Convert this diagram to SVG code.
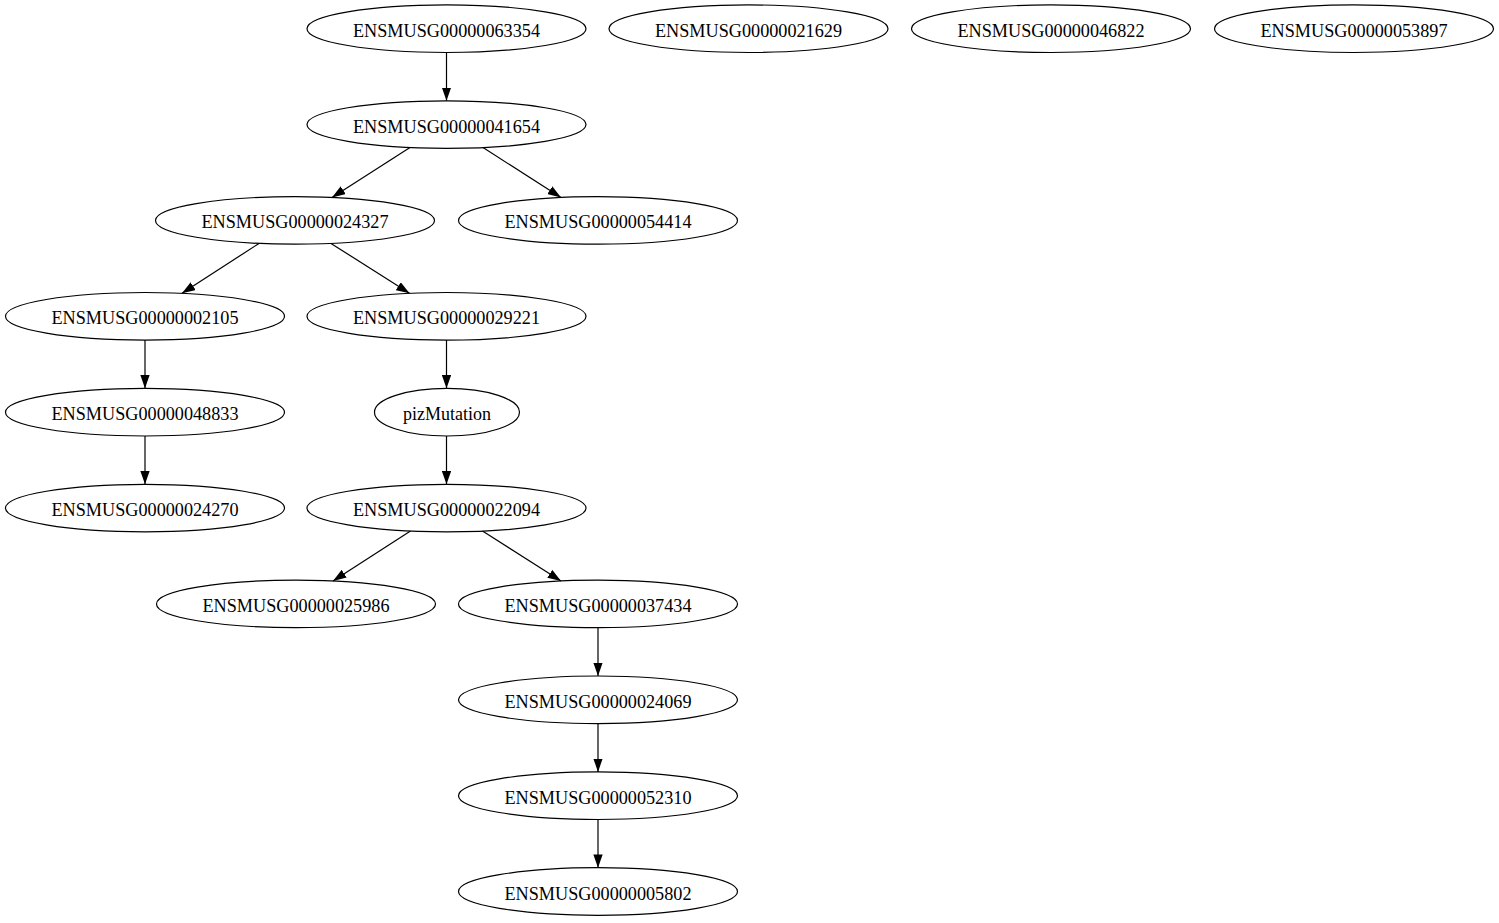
<svg xmlns="http://www.w3.org/2000/svg" width="1499" height="923" viewBox="0 0 1499 923">
<style>
.n ellipse{fill:none;stroke:#000;stroke-width:1.2}
.n text{font-family:"Liberation Serif","Times New Roman",serif;font-size:18.67px;fill:#000;text-anchor:middle}
.e path{fill:none;stroke:#000;stroke-width:1.2;marker-end:url(#ah)}
</style>
<defs>
<marker id="ah" markerUnits="userSpaceOnUse" markerWidth="13.3" markerHeight="9.3" refX="13.3" refY="4.65" orient="auto" viewBox="0 0 13.3 9.3"><path d="M0,0 L13.3,4.65 L0,9.3 z" fill="#000"/></marker>
</defs>
<rect width="1499" height="923" fill="#fff"/>
<g id="edges" class="e">
<path d="M446.5,52.5 V100.8"/>
<path d="M410,147.6 L332,197.4"/>
<path d="M483,147.6 L561,197.4"/>
<path d="M259,243.4 L182,293.3"/>
<path d="M331,243.4 L409.5,293.3"/>
<path d="M145,340.1 V388.4"/>
<path d="M446.5,340.1 V388.4"/>
<path d="M145,436 V484.3"/>
<path d="M446.5,436 V484.3"/>
<path d="M410.5,531.1 L333,580.9"/>
<path d="M482.5,531.1 L561,580.9"/>
<path d="M598,627.7 V676"/>
<path d="M598,723.6 V771.9"/>
<path d="M598,819.5 V867.7"/>
</g>
<g id="ENSMUSG00000063354" class="n"><ellipse cx="446.5" cy="28.7" rx="139.5" ry="23.8"/><text x="446.5" y="36.7" textLength="187" lengthAdjust="spacingAndGlyphs">ENSMUSG00000063354</text></g>
<g id="ENSMUSG00000021629" class="n"><ellipse cx="748.5" cy="28.7" rx="139.5" ry="23.8"/><text x="748.5" y="36.7" textLength="187" lengthAdjust="spacingAndGlyphs">ENSMUSG00000021629</text></g>
<g id="ENSMUSG00000046822" class="n"><ellipse cx="1051" cy="28.7" rx="139.5" ry="23.8"/><text x="1051" y="36.7" textLength="187" lengthAdjust="spacingAndGlyphs">ENSMUSG00000046822</text></g>
<g id="ENSMUSG00000053897" class="n"><ellipse cx="1354" cy="28.7" rx="139.5" ry="23.8"/><text x="1354" y="36.7" textLength="187" lengthAdjust="spacingAndGlyphs">ENSMUSG00000053897</text></g>
<g id="ENSMUSG00000041654" class="n"><ellipse cx="446.5" cy="124.6" rx="139.5" ry="23.8"/><text x="446.5" y="132.6" textLength="187" lengthAdjust="spacingAndGlyphs">ENSMUSG00000041654</text></g>
<g id="ENSMUSG00000024327" class="n"><ellipse cx="295" cy="220.4" rx="139.5" ry="23.8"/><text x="295" y="228.4" textLength="187" lengthAdjust="spacingAndGlyphs">ENSMUSG00000024327</text></g>
<g id="ENSMUSG00000054414" class="n"><ellipse cx="598" cy="220.4" rx="139.5" ry="23.8"/><text x="598" y="228.4" textLength="187" lengthAdjust="spacingAndGlyphs">ENSMUSG00000054414</text></g>
<g id="ENSMUSG00000002105" class="n"><ellipse cx="145" cy="316.3" rx="139.5" ry="23.8"/><text x="145" y="324.3" textLength="187" lengthAdjust="spacingAndGlyphs">ENSMUSG00000002105</text></g>
<g id="ENSMUSG00000029221" class="n"><ellipse cx="446.5" cy="316.3" rx="139.5" ry="23.8"/><text x="446.5" y="324.3" textLength="187" lengthAdjust="spacingAndGlyphs">ENSMUSG00000029221</text></g>
<g id="ENSMUSG00000048833" class="n"><ellipse cx="145" cy="412.2" rx="139.5" ry="23.8"/><text x="145" y="420.2" textLength="187" lengthAdjust="spacingAndGlyphs">ENSMUSG00000048833</text></g>
<g id="pizMutation" class="n"><ellipse cx="447" cy="412.2" rx="72.5" ry="23.8"/><text x="447" y="420.2" textLength="88" lengthAdjust="spacingAndGlyphs">pizMutation</text></g>
<g id="ENSMUSG00000024270" class="n"><ellipse cx="145" cy="508.1" rx="139.5" ry="23.8"/><text x="145" y="516.1" textLength="187" lengthAdjust="spacingAndGlyphs">ENSMUSG00000024270</text></g>
<g id="ENSMUSG00000022094" class="n"><ellipse cx="446.5" cy="508.1" rx="139.5" ry="23.8"/><text x="446.5" y="516.1" textLength="187" lengthAdjust="spacingAndGlyphs">ENSMUSG00000022094</text></g>
<g id="ENSMUSG00000025986" class="n"><ellipse cx="296" cy="603.9" rx="139.5" ry="23.8"/><text x="296" y="611.9" textLength="187" lengthAdjust="spacingAndGlyphs">ENSMUSG00000025986</text></g>
<g id="ENSMUSG00000037434" class="n"><ellipse cx="598" cy="603.9" rx="139.5" ry="23.8"/><text x="598" y="611.9" textLength="187" lengthAdjust="spacingAndGlyphs">ENSMUSG00000037434</text></g>
<g id="ENSMUSG00000024069" class="n"><ellipse cx="598" cy="699.8" rx="139.5" ry="23.8"/><text x="598" y="707.8" textLength="187" lengthAdjust="spacingAndGlyphs">ENSMUSG00000024069</text></g>
<g id="ENSMUSG00000052310" class="n"><ellipse cx="598" cy="795.7" rx="139.5" ry="23.8"/><text x="598" y="803.7" textLength="187" lengthAdjust="spacingAndGlyphs">ENSMUSG00000052310</text></g>
<g id="ENSMUSG00000005802" class="n"><ellipse cx="598" cy="891.5" rx="139.5" ry="23.8"/><text x="598" y="899.5" textLength="187" lengthAdjust="spacingAndGlyphs">ENSMUSG00000005802</text></g>
</svg>
